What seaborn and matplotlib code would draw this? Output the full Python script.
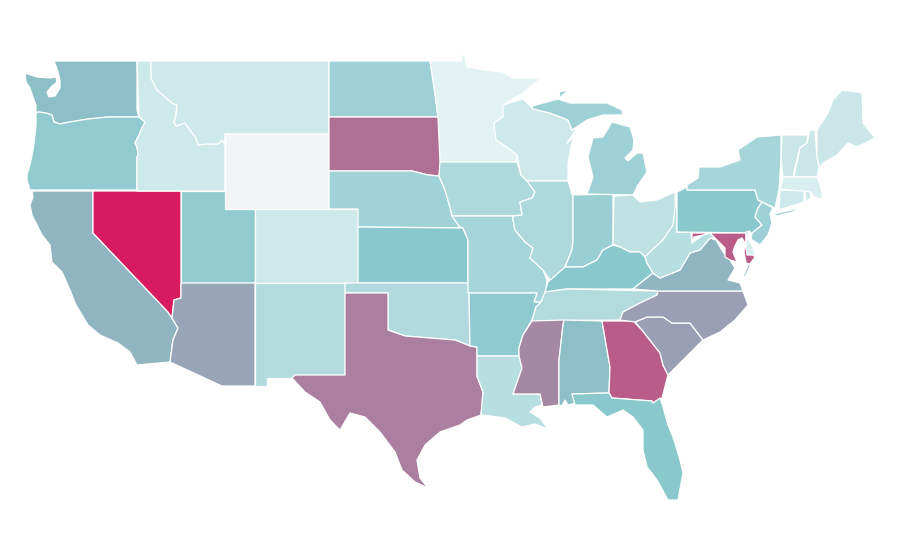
import matplotlib
matplotlib.use("Agg")
import matplotlib.pyplot as plt
from matplotlib.collections import PolyCollection
from matplotlib.colors import Normalize, ListedColormap
import seaborn as sns

states = ["WA","OR","CA","NV","ID","MT","WY","UT","AZ","CO","NM","ND","SD","NE","KS","OK","TX",
          "MN","IA","MO","AR","LA","WI","IL","IN","MI","OH","KY","TN","MS","AL","GA","FL","SC",
          "NC","VA","WV","PA","NY","NJ","MD","DE","VT","NH","ME","MA","CT","RI"]
rates = [43,36,46.5,100,12,12,0,36,52,12,23,31,70,30,39,24,65,
         4,25,28,37,21,12,25,33,31,18,39,23,62,43,77,39,54,
         54,46.5,21,39,27.5,31,77,8,14,14,14,8,12,12]
scale_colors = ["#f3f4f6", "#e8f5f6", "#88c7cc", "#d81b60"]

# State outlines on the map's own projected plane
shapes = {
"WA":[[(54,61),(137,61),(137,110),(139,117),(108,117),(88,119),(70,122),(60,124),(54,122),(52,115),(46,113),(38,112),(36,113),(36,105),(34,100),(30,88),(26,82),(25,73),(37,77),(50,78),(56,77),(57,82),(52,86),(47,92),(49,97),(55,96),(60,88),(60,80),(58,72),(56,66)]],
"OR":[[(38,112),(46,113),(52,115),(54,122),(60,124),(70,122),(88,119),(108,117),(139,117),(145,122),(142,128),(139,135),(135,143),(137,147),(138,155),(137,157),(137,190),(30,190),(27,180),(27,175),(30,165),(33,150),(35,135),(36,125),(36,113)]],
"CA":[[(32,191),(93,191),(93,233),(168,312),(172,318),(178,328),(173,340),(170,362),(137,365),(130,352),(118,343),(100,335),(88,325),(76,305),(70,290),(62,272),(52,262),(50,245),(42,235),(32,215),(30,205),(33,197)]],
"NV":[[(93,191),(181,191),(181,298),(174,300),(172,318),(168,312),(93,233)]],
"ID":[[(137,61),(151,61),(151,78),(153,82),(157,90),(165,97),(172,103),(177,105),(176,115),(174,122),(176,126),(185,123),(190,130),(196,138),(198,145),(207,144),(218,144),(222,140),(225,144),(225,191),(137,191),(137,157),(138,155),(137,147),(135,143),(139,135),(142,128),(145,122),(139,117)]],
"MT":[[(151,61),(329,61),(329,134),(225,134),(225,144),(222,140),(218,144),(207,144),(198,145),(196,138),(190,130),(185,123),(176,126),(174,122),(176,115),(177,105),(172,103),(165,97),(157,90),(153,82),(151,78)]],
"WY":[[(225,134),(329,134),(329,209),(225,209)]],
"UT":[[(181,191),(225,191),(225,209),(255,209),(255,283),(181,283)]],
"AZ":[[(181,283),(255,283),(255,386),(222,386),(170,362),(173,340),(178,328),(172,318),(174,300),(181,298)]],
"CO":[[(255,209),(358,209),(358,283),(255,283)]],
"NM":[[(255,283),(345,283),(345,375),(295,375),(295,378),(267,378),(267,386),(255,386)]],
"ND":[[(329,61),(430,61),(433,80),(436,100),(438,117),(329,117)]],
"SD":[[(329,117),(438,117),(441,125),(441,165),(439,176),(428,175),(412,171),(329,171)]],
"NE":[[(329,171),(412,171),(428,175),(439,176),(445,190),(450,207),(452,216),(459,226),(463,228),(358,227),(358,209),(329,209)]],
"KS":[[(358,227),(463,228),(468,240),(468,283),(358,283)]],
"OK":[[(345,283),(468,283),(469,293),(470,346),(455,340),(430,338),(405,336),(388,330),(388,293),(345,293)]],
"TX":[[(345,293),(388,293),(388,330),(405,336),(430,338),(455,340),(470,346),(477,347),(477,376),(483,392),(481,415),(467,420),(460,425),(440,432),(425,445),(417,460),(420,478),(428,488),(415,482),(402,470),(395,452),(380,432),(365,417),(350,413),(340,430),(330,420),(320,402),(305,392),(292,378),(295,375),(345,375)]],
"MN":[[(430,61),(461,61),(462,55),(465,55),(467,67),(485,70),(502,72),(512,78),(533,78),(540,79),(523,93),(503,105),(503,117),(494,123),(496,140),(507,147),(517,155),(517,162),(440,162),(438,117),(433,80)]],
"IA":[[(440,162),(517,162),(521,175),(527,181),(535,192),(532,198),(520,202),(522,215),(513,216),(452,216),(450,207),(445,190),(439,176)]],
"MO":[[(452,216),(513,216),(513,220),(515,230),(525,242),(533,248),(530,258),(543,270),(547,280),(546,292),(541,302),(534,302),(537,293),(468,293),(468,240),(463,228),(459,226)]],
"AR":[[(469,293),(537,293),(534,302),(541,302),(536,307),(532,320),(523,335),(519,348),(519,356),(477,356),(477,347),(470,346)]],
"LA":[[(477,356),(519,356),(522,368),(513,394),(540,394),(542,405),(535,407),(530,412),(540,418),(548,429),(535,424),(522,427),(505,418),(490,416),(481,415),(483,392),(477,376)]],
"WI":[[(503,105),(523,99),(533,109),(550,113),(568,120),(572,130),(577,128),(567,143),(573,137),(568,163),(568,181),(527,181),(521,175),(517,155),(507,147),(496,140),(494,123),(503,117)]],
"IL":[[(527,181),(568,181),(573,197),(573,240),(572,250),(565,267),(560,280),(550,280),(543,270),(530,258),(533,248),(525,242),(515,230),(513,220),(513,216),(522,215),(520,202),(532,198),(535,192)]],
"IN":[[(573,195),(613,194),(613,245),(603,250),(597,260),(583,267),(565,267),(572,250),(573,240)]],
"MI":[[(587,194),(633,195),(638,185),(647,172),(643,153),(637,153),(628,161),(625,158),(633,150),(634,140),(630,127),(612,122),(603,137),(593,138),(588,157),(593,177)],
      [(532,106),(558,99),(570,103),(607,103),(622,110),(623,115),(603,115),(587,120),(572,130),(568,120),(550,113),(533,109)],
      [(559,92),(568,90),(560,98)]],
"OH":[[(614,196),(633,195),(640,202),(657,200),(675,192),(676,223),(663,240),(652,250),(645,257),(640,252),(630,252),(620,247),(613,244)]],
"KY":[[(548,282),(565,267),(583,267),(597,260),(603,250),(613,245),(620,247),(630,252),(640,252),(645,257),(647,263),(653,273),(633,289),(567,289),(545,292)]],
"TN":[[(545,292),(567,289),(658,291),(657,295),(640,303),(623,312),(620,320),(532,321),(536,307),(541,302)]],
"MS":[[(532,321),(564,320),(563,325),(559,360),(559,405),(543,407),(540,394),(513,394),(522,368),(519,356),(519,348),(523,335)]],
"AL":[[(564,320),(602,321),(610,367),(609,393),(572,394),(575,403),(568,405),(565,400),(562,406),(559,405),(559,360),(563,325)]],
"GA":[[(602,321),(636,321),(635,323),(642,330),(660,353),(663,365),(668,375),(662,398),(653,403),(652,401),(612,398),(609,393),(610,367)]],
"FL":[[(572,394),(609,393),(612,398),(652,401),(653,403),(660,398),(663,407),(668,425),(673,437),(680,460),(683,473),(678,500),(668,500),(657,480),(647,467),(643,450),(643,430),(633,417),(623,410),(607,417),(593,405),(575,405)]],
"SC":[[(635,322),(647,317),(663,317),(672,323),(690,323),(703,340),(693,350),(683,360),(670,373),(668,375),(663,365),(660,353),(642,330)]],
"NC":[[(658,291),(743,291),(748,305),(735,320),(720,332),(703,340),(690,323),(672,323),(663,317),(647,317),(635,322),(620,320),(623,312),(640,303),(657,295)]],
"VA":[[(633,289),(653,273),(660,278),(680,270),(690,253),(700,250),(710,238),(716,240),(723,252),(730,260),(735,268),(728,280),(740,283),(743,291),(658,291)],
      [(748,265),(751,264),(745,277),(743,277)]],
"WV":[[(645,257),(652,250),(663,240),(673,225),(675,207),(677,207),(677,232),(691,232),(692,243),(703,235),(710,233),(715,238),(710,238),(700,250),(690,253),(680,270),(660,278),(653,273),(647,263)]],
"PA":[[(677,192),(687,187),(687,190),(755,190),(758,200),(762,202),(758,208),(755,217),(762,225),(752,233),(677,232)]],
"NY":[[(687,190),(687,185),(698,178),(699,167),(720,167),(740,160),(738,150),(757,137),(781,135),(781,160),(779,190),(775,208),(762,202),(758,200),(755,190)],
      [(773,214),(800,208),(793,212),(777,216)]],
"NJ":[[(762,202),(773,208),(770,214),(772,223),(768,235),(760,245),(751,239),(752,233),(762,225),(755,217),(758,208)]],
"MD":[[(692,233),(746,233),(746,248),(755,257),(750,264),(746,263),(744,252),(745,243),(742,238),(738,240),(735,246),(733,252),(737,262),(730,260),(725,257),(725,248),(717,240),(710,233),(703,235),(694,237),(692,243)]],
"DE":[[(746,232),(750,231),(747,238),(751,243),(756,255),(747,255),(746,248)]],
"VT":[[(782,135),(808,135),(807,143),(800,148),(795,167),(793,177),(783,177),(781,160)]],
"NH":[[(810,130),(815,130),(817,157),(819,168),(817,177),(794,177),(796,167),(800,148),(807,143)]],
"ME":[[(817,130),(828,113),(833,100),(842,90),(862,93),(863,123),(875,138),(867,142),(857,147),(848,143),(837,155),(823,163),(820,168),(817,157)]],
"MA":[[(783,177),(817,177),(820,184),(823,197),(830,195),(820,199),(815,197),(810,192),(780,189)]],
"CT":[[(780,190),(804,191),(804,202),(785,208),(779,210)]],
"RI":[[(805,191),(810,192),(811,198),(806,202)]],
}

sns.set_theme(style="white")
ramp = (sns.blend_palette(scale_colors[:2], 4)
        + sns.blend_palette(scale_colors[1:3], 76)
        + sns.blend_palette(scale_colors[2:], 120))
cmap = ListedColormap(ramp, name="rate")

fig, ax = plt.subplots(figsize=(9, 5.6), dpi=100)
fig.subplots_adjust(0, 0, 1, 1)
polys, vals = [], []
for s, v in zip(states, rates):
    for p in shapes[s]:
        polys.append(p)
        vals.append(v)
pc = PolyCollection(polys, array=vals, cmap=cmap, norm=Normalize(0, 100),
                    edgecolors="white", linewidths=0.9)
ax.add_collection(pc)
ax.set_xlim(0, 900)
ax.set_ylim(560, 0)
ax.axis("off")
fig.savefig("out.png", dpi=100, facecolor="white")
